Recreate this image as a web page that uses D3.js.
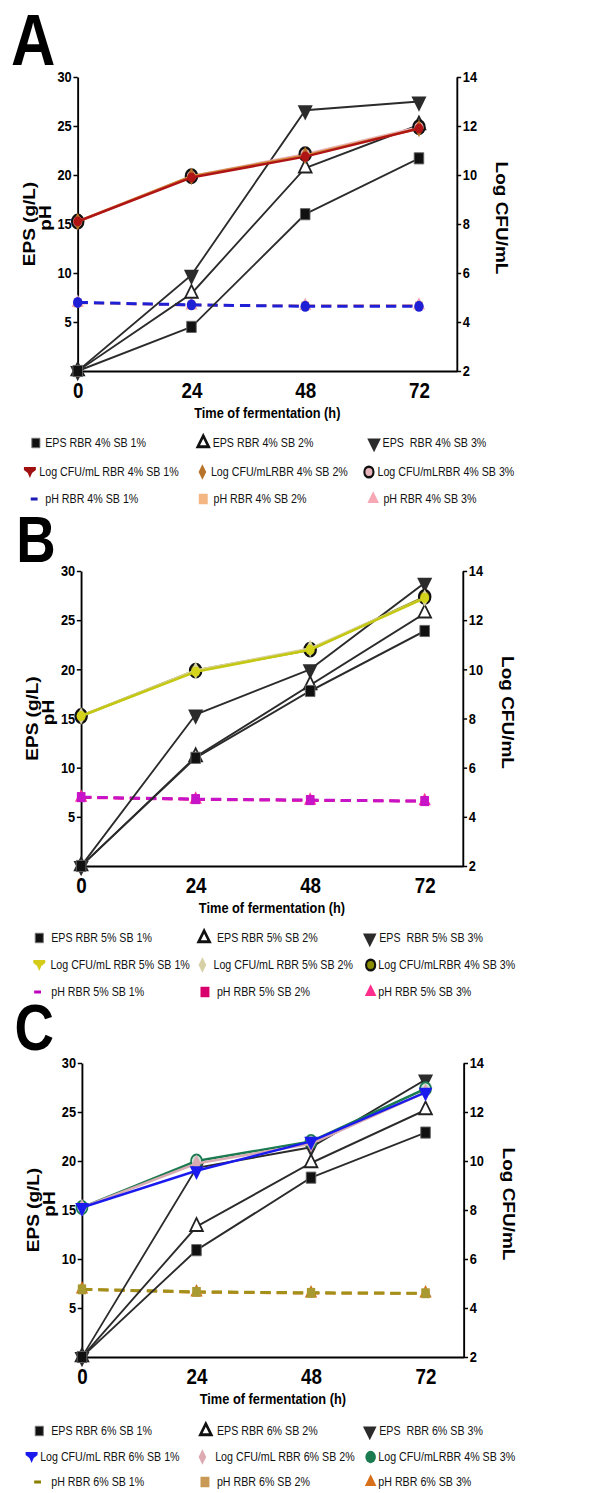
<!DOCTYPE html>
<html>
<head>
<meta charset="utf-8">
<script src="https://cdn.jsdelivr.net/npm/d3@7"></script>
<style>
  body { margin: 0; background: #fff; }
  text { font-family: "Liberation Sans", Arial, sans-serif; }
</style>
</head>
<body>
<script>
// shared axes
const hours = [0, 24, 48, 72];
const xTicks = [0, 24, 48, 72];
const leftTicks = [5, 10, 15, 20, 25, 30];
const rightTicks = [2, 4, 6, 8, 10, 12, 14];

// panel A (RBR 4%)
const epsA1 = [0, 4.5, 16.0, 21.7];
const epsA2 = [0, 7.9, 20.7, 25.1];
const epsA3 = [0, 9.8, 26.6, 27.5];
const cfuA1 = [8.1, 9.9, 10.75, 11.9];
const cfuA2 = [8.1, 9.95, 10.8, 11.9];
const cfuA3 = [8.1, 9.95, 10.85, 11.95];
const phA1 = [7.0, 6.75, 6.6, 6.6];
const phA2 = [6.95, 6.75, 6.65, 6.65];
const phA3 = [6.95, 6.7, 6.65, 6.7];
const legendA = [
  "EPS RBR 4% SB 1%", "EPS RBR 4% SB 2%", "EPS  RBR 4% SB 3%",
  "Log CFU/mL RBR 4% SB 1%", "Log CFU/mLRBR 4% SB 2%", "Log CFU/mLRBR 4% SB 3%",
  "pH RBR 4% SB 1%", "pH RBR 4% SB 2%", "pH RBR 4% SB 3%",
];

// panel B (RBR 5%)
const epsB1 = [0, 11.0, 17.8, 23.9];
const epsB2 = [0, 11.1, 18.4, 25.7];
const epsB3 = [0, 15.4, 20.0, 28.8];
const cfuB1 = [8.1, 9.9, 10.8, 12.9];
const cfuB2 = [8.1, 9.95, 10.85, 12.9];
const cfuB3 = [8.1, 9.95, 10.8, 12.95];
const phB1 = [7.0, 6.8, 6.7, 6.6];
const phB2 = [7.0, 6.8, 6.7, 6.6];
const phB3 = [6.95, 6.75, 6.65, 6.6];
const legendB = [
  "EPS RBR 5% SB 1%", "EPS RBR 5% SB 2%", "EPS  RBR 5% SB 3%",
  "Log CFU/mL RBR 5% SB 1%", "Log CFU/mL RBR 5% SB 2%", "Log CFU/mLRBR 4% SB 3%",
  "pH RBR 5% SB 1%", "pH RBR 5% SB 2%", "pH RBR 5% SB 3%",
];

// panel C (RBR 6%)
const epsC1 = [0, 10.9, 18.3, 22.9];
const epsC2 = [0, 13.3, 19.8, 25.2];
const epsC3 = [0, 19.3, 21.4, 28.3];
const cfuC1 = [8.1, 9.6, 10.8, 12.8];
const cfuC2 = [8.1, 9.9, 10.7, 12.8];
const cfuC3 = [8.1, 10.0, 10.8, 12.95];
const phC1 = [6.9, 6.65, 6.55, 6.5];
const phC2 = [6.9, 6.65, 6.55, 6.5];
const phC3 = [6.9, 6.6, 6.5, 6.5];
const legendC = [
  "EPS RBR 6% SB 1%", "EPS RBR 6% SB 2%", "EPS  RBR 6% SB 3%",
  "Log CFU/mL RBR 6% SB 1%", "Log CFU/mL RBR 6% SB 2%", "Log CFU/mLRBR 4% SB 3%",
  "pH RBR 6% SB 1%", "pH RBR 6% SB 2%", "pH RBR 6% SB 3%",
];

const width = 609;
const height = 1493;
const squeeze = 0.854; // the source figure is horizontally compressed
const epsColor = "#2b2b2b";

const svg = d3.select("body")
    .append("svg")
    .attr("width", width)
    .attr("height", height)
    .attr("viewBox", [0, 0, width, height].join(" "));

svg.append("rect").attr("width", width).attr("height", height).attr("fill", "#fff");

const root = svg.append("g").attr("transform", `scale(${squeeze},1)`);

// marker shapes
const pin = "M-7,-5L7,-5L7,-2L2.5,1L0,6L-2.5,1L-7,-2Z";

const drawMarker = (sel, m) => {
  let node;
  if (m.shape === "pin") {
    node = sel.append("path").attr("d", pin);
  } else if (m.shape === "dash") {
    node = sel.append("rect").attr("x", -4).attr("y", -1.5).attr("width", 8).attr("height", 3);
  } else {
    const type = {
      square: d3.symbolSquare,
      tri: d3.symbolTriangle,
      down: d3.symbolTriangle,
      diamond: d3.symbolDiamond,
      circle: d3.symbolCircle,
    }[m.shape];
    node = sel.append("path").attr("d", d3.symbol(type, m.size || 100)());
    if (m.shape === "down") node.attr("transform", "rotate(180)");
  }
  node.attr("fill", m.fill)
      .attr("stroke", m.stroke || "none")
      .attr("stroke-width", m.sw || 0);
};

const epsMarks = [
  { shape: "down", fill: "#2b2b2b", size: 135 },
  { shape: "tri", fill: "#fff", stroke: "#222", sw: 2, size: 95 },
  { shape: "square", fill: "#111", stroke: "#666", sw: 1, size: 125 },
];

const panels = [
  {
    letter: "A", letterX: 13, letterY: 65, letterSize: 72,
    left: 91, right: 535, top: 77, bottom: 371,
    legend: legendA, legendY: [443, 472, 499],
    symX: [[42, 238, 438], [35, 237, 432], [40, 238, 437]],
    txtX: [[53, 249, 448], [46, 247, 442], [53, 250, 449]],
    ph: [
      { v: phA3, color: "#f5a9b8", w: 2.5, m: { shape: "tri", fill: "#f5a9b8", size: 90 } },
      { v: phA2, color: "#f3b98a", w: 2.5, m: { shape: "square", fill: "#f3b98a", size: 80 } },
      { v: phA1, color: "#1f1fd6", w: 3, m: { shape: "circle", fill: "#1f1fd6", size: 95 } },
    ],
    eps: [epsA3, epsA2, epsA1],
    cfu: [
      { v: cfuA3, color: "#e9b5bb", m: { shape: "circle", fill: "#e9b5bb", stroke: "#111", sw: 2.5, size: 140 } },
      { v: cfuA2, color: "#d08a3a", m: { shape: "diamond", fill: "#b8732a", size: 90 } },
      { v: cfuA1, color: "#b01515", m: { shape: "circle", fill: "#b01515", size: 80 } },
    ],
    legendMarks: [
      { shape: "square", fill: "#111", stroke: "#777", sw: 1, size: 90 },
      { shape: "tri", fill: "#fff", stroke: "#111", sw: 3, size: 70 },
      { shape: "down", fill: "#2b2b2b", size: 110 },
      { shape: "pin", fill: "#a01010" },
      { shape: "diamond", fill: "#b8732a", size: 70 },
      { shape: "circle", fill: "#e8b4bc", stroke: "#111", sw: 2.5, size: 90 },
      { shape: "dash", fill: "#1a1ab4" },
      { shape: "square", fill: "#f4b784", size: 110 },
      { shape: "tri", fill: "#f7a8b4", size: 80 },
    ],
  },
  {
    letter: "B", letterX: 19, letterY: 562, letterSize: 64,
    left: 95, right: 542, top: 571, bottom: 866,
    legend: legendB, legendY: [938, 965, 992],
    symX: [[46, 239, 433], [46, 237, 434], [44, 240, 434]],
    txtX: [[60, 254, 444], [59, 250, 443], [60, 254, 443]],
    ph: [
      { v: phB3, color: "#ff3399", w: 2.5, m: { shape: "tri", fill: "#ff3399", size: 90 } },
      { v: phB2, color: "#d6006a", w: 2.5, m: { shape: "square", fill: "#d6006a", size: 90 } },
      { v: phB1, color: "#c814c8", w: 3, m: { shape: "square", fill: "#c814c8", size: 100 } },
    ],
    eps: [epsB3, epsB2, epsB1],
    cfu: [
      { v: cfuB3, color: "#8a8a00", m: { shape: "circle", fill: "#8a8a00", stroke: "#111", sw: 2.5, size: 140 } },
      { v: cfuB2, color: "#d9d3a2", m: { shape: "diamond", fill: "#d9d3a2", size: 90 } },
      { v: cfuB1, color: "#c4c812", m: { shape: "circle", fill: "#d4d41c", size: 80 } },
    ],
    legendMarks: [
      { shape: "square", fill: "#111", stroke: "#777", sw: 1, size: 90 },
      { shape: "tri", fill: "#fff", stroke: "#111", sw: 3, size: 70 },
      { shape: "down", fill: "#2b2b2b", size: 110 },
      { shape: "pin", fill: "#d4cc18" },
      { shape: "diamond", fill: "#d6d0a4", size: 70 },
      { shape: "circle", fill: "#8c8c00", stroke: "#111", sw: 2.5, size: 90 },
      { shape: "dash", fill: "#c000c0" },
      { shape: "square", fill: "#d8006c", size: 110 },
      { shape: "tri", fill: "#ff2d8c", size: 80 },
    ],
  },
  {
    letter: "C", letterX: 17, letterY: 1050, letterSize: 64,
    left: 96, right: 543, top: 1063, bottom: 1357,
    legend: legendC, legendY: [1431, 1457, 1482],
    symX: [[46, 241, 433], [37, 237, 434], [44, 240, 434]],
    txtX: [[60, 254, 444], [47, 252, 443], [60, 254, 443]],
    ph: [
      { v: phC3, color: "#d06f1a", w: 2.5, m: { shape: "tri", fill: "#d06f1a", size: 90 } },
      { v: phC2, color: "#c8a050", w: 2.5, m: { shape: "square", fill: "#c8a050", size: 90 } },
      { v: phC1, color: "#a39018", w: 3, m: { shape: "square", fill: "#a89a30", size: 95 } },
    ],
    eps: [epsC3, epsC2, epsC1],
    cfu: [
      { v: cfuC3, color: "#1a7a50", m: { shape: "circle", fill: "#cfe3d8", stroke: "#1a7a50", sw: 2, size: 130 } },
      { v: cfuC2, color: "#d8aab2", m: { shape: "diamond", fill: "#d8aab2", size: 90 } },
      { v: cfuC1, color: "#1a1aee", m: { shape: "down", fill: "#1a1aee", size: 110 } },
    ],
    legendMarks: [
      { shape: "square", fill: "#111", stroke: "#777", sw: 1, size: 90 },
      { shape: "tri", fill: "#fff", stroke: "#111", sw: 3, size: 70 },
      { shape: "down", fill: "#2b2b2b", size: 110 },
      { shape: "pin", fill: "#1a1aee" },
      { shape: "diamond", fill: "#dcaab0", size: 70 },
      { shape: "circle", fill: "#1a7a50", size: 120 },
      { shape: "dash", fill: "#8c8000" },
      { shape: "square", fill: "#c89a55", size: 110 },
      { shape: "tri", fill: "#d8701a", size: 80 },
    ],
  },
];

const drawPanel = (p) => {
  const g = root.append("g");

  const x = d3.scaleLinear().domain([0, 80]).range([p.left, p.right]);
  const y = d3.scaleLinear().domain([0, 30]).range([p.bottom, p.top]);
  const yR = d3.scaleLinear().domain([2, 14]).range([p.bottom, p.top]);

  g.append("text")
      .attr("x", p.letterX)
      .attr("y", p.letterY)
      .attr("font-size", p.letterSize)
      .attr("font-weight", "bold")
      .text(p.letter);

  // axes
  const axL = g.append("g")
      .attr("transform", `translate(${p.left},0)`)
      .call(d3.axisLeft(y).tickValues(leftTicks).tickSize(5).tickSizeOuter(0).tickPadding(2));
  const axR = g.append("g")
      .attr("transform", `translate(${p.right},0)`)
      .call(d3.axisRight(yR).tickValues(rightTicks).tickSize(5).tickSizeOuter(0).tickPadding(2));
  const axB = g.append("g")
      .attr("transform", `translate(0,${p.bottom})`)
      .call(d3.axisBottom(x).tickValues(xTicks).tickSize(0).tickSizeOuter(0).tickPadding(11));

  [axL, axR, axB].forEach((ax) => {
    ax.select(".domain").attr("stroke", "#000").attr("stroke-width", 2.2);
    ax.selectAll(".tick line").attr("stroke", "#000").attr("stroke-width", 1.5);
    ax.selectAll("text")
        .attr("font-family", "'Liberation Sans', Arial, sans-serif")
        .attr("font-weight", "bold")
        .attr("fill", "#000");
  });
  axL.selectAll("text").attr("font-size", 15);
  axR.selectAll("text").attr("font-size", 15);
  axB.selectAll("text").attr("font-size", 22);

  const mid = (p.top + p.bottom) / 2 - 3;

  g.append("text")
      .attr("transform", `translate(${p.left - 57},${mid + 3}) rotate(-90)`)
      .attr("dy", "0.35em")
      .attr("text-anchor", "middle")
      .attr("font-size", 19)
      .attr("font-weight", "bold")
      .text("EPS (g/L)");
  g.append("text")
      .attr("transform", `translate(${p.left - 38},${mid - 3}) rotate(-90)`)
      .attr("dy", "0.35em")
      .attr("text-anchor", "middle")
      .attr("font-size", 19)
      .attr("font-weight", "bold")
      .text("pH");
  g.append("text")
      .attr("transform", `translate(${p.right + 53},${mid - 3}) rotate(90)`)
      .attr("dy", "0.35em")
      .attr("text-anchor", "middle")
      .attr("font-size", 19)
      .attr("font-weight", "bold")
      .text("Log CFU/mL");
  g.append("text")
      .attr("x", (p.left + p.right) / 2)
      .attr("y", p.bottom + 47)
      .attr("text-anchor", "middle")
      .attr("font-size", 15)
      .attr("font-weight", "bold")
      .text("Time of fermentation (h)");

  const drawSeries = (values, scale, color, w, dash, mark) => {
    const pts = hours.map((h, i) => [x(h), scale(values[i])]);

    g.append("path")
        .attr("d", d3.line()(pts))
        .attr("fill", "none")
        .attr("stroke", color)
        .attr("stroke-width", w)
        .attr("stroke-dasharray", dash);

    g.append("g")
        .selectAll("g")
        .data(pts)
        .join("g")
        .attr("transform", (d) => `translate(${d[0]},${d[1]})`)
        .each(function() {
          drawMarker(d3.select(this), mark);
        });
  };

  p.ph.forEach((s) => drawSeries(s.v, y, s.color, s.w, "12,7", s.m));
  p.eps.forEach((v, i) => drawSeries(v, y, epsColor, 2, null, epsMarks[i]));
  p.cfu.forEach((s) => drawSeries(s.v, yR, s.color, 2.5, null, s.m));

  // legend
  p.legend.forEach((label, i) => {
    const row = Math.floor(i / 3);
    const col = i % 3;
    const ly = p.legendY[row];

    const mg = g.append("g").attr("transform", `translate(${p.symX[row][col]},${ly})`);
    drawMarker(mg, p.legendMarks[i]);

    g.append("text")
        .attr("x", p.txtX[row][col])
        .attr("y", ly)
        .attr("dy", "0.35em")
        .attr("font-size", 12.5)
        .attr("fill", "#111")
        .style("white-space", "pre")
        .text(label);
  });
};

panels.forEach(drawPanel);
</script>
</body>
</html>
